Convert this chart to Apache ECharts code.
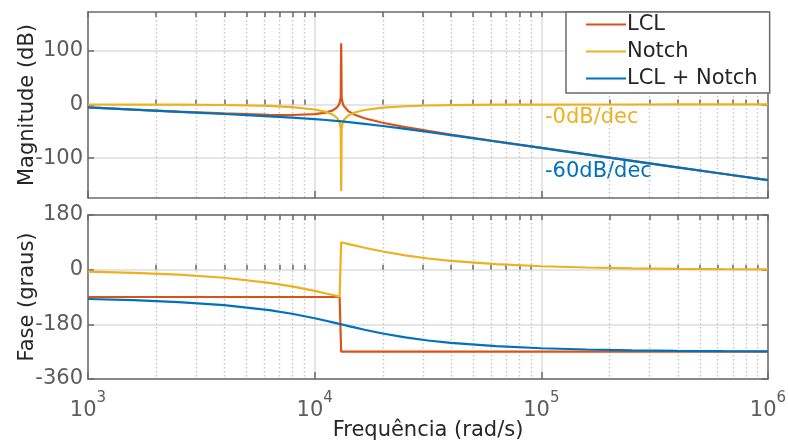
<!DOCTYPE html>
<html><head><meta charset="utf-8">
<script src="https://cdn.jsdelivr.net/npm/echarts@6/dist/echarts.min.js"></script>
<style>html,body{margin:0;padding:0;background:#fff}#c{width:788px;height:441px}</style>
</head><body><div id="c"></div>
<script>
// ---- data ----
const seriesNames = ['LCL', 'Notch', 'LCL + Notch'];
const freq = [1000, 1585, 2512, 3981, 6310, 7943, 10000, 11220, 12023, 12589, 12882, 13032, 13092, 13152, 13305, 13490, 14125, 15136, 16596, 19953, 25119, 31623, 39811, 63096, 100000, 158489, 251189, 398107, 630957, 1000000];
const magLCL = [-5.53, -9.45, -13.25, -16.74, -19.28, -19.59, -17.97, -15.06, -11.08, -5.12, 2.20, 12.86, 114, 12.72, 1.63, -3.99, -12.88, -19.72, -25.65, -34.01, -42.15, -49.27, -55.91, -68.52, -80.75, -92.84, -104.88, -116.89, -128.90, -140.90];
const magNotch = [-0.06, -0.15, -0.37, -0.98, -2.76, -4.88, -9.33, -13.88, -18.94, -25.66, -33.36, -44.22, -161, -44.24, -33.35, -27.98, -19.92, -14.40, -10.34, -6.01, -3.33, -1.94, -1.16, -0.44, -0.17, -0.07, -0.03, -0.01, 0, 0];
const magTotal = [-5.59, -9.60, -13.63, -17.72, -22.04, -24.47, -27.30, -28.94, -30.02, -30.77, -31.16, -31.36, -31.44, -31.52, -31.72, -31.97, -32.81, -34.12, -35.98, -40.02, -45.48, -51.20, -57.07, -68.95, -80.92, -92.91, -104.91, -116.91, -128.91, -140.91];
const freqPh = [1000, 1585, 2512, 3981, 6310, 7943, 10000, 11220, 12023, 12589, 12882, 13032, 13092, 13092, 13152, 13305, 13490, 14125, 15136, 16596, 19953, 25119, 31623, 39811, 63096, 100000, 158489, 251189, 398107, 630957, 1000000];
const phLCL = [-90, -90, -90, -90, -90, -90, -90, -90, -90, -90, -90, -90, -90, -270, -270, -270, -270, -270, -270, -270, -270, -270, -270, -270, -270, -270, -270, -270, -270, -270, -270];
const phNotch = [-6.57, -10.45, -16.64, -26.69, -43.28, -55.22, -70.02, -78.33, -83.51, -87.01, -88.77, -89.65, -90, 90, 89.65, 88.77, 87.71, 84.21, 79.02, 72.29, 59.95, 47.03, 36.85, 28.95, 18.02, 11.30, 7.11, 4.48, 2.83, 1.78, 1.13];
const phTotal = [-96.57, -100.45, -106.64, -116.69, -133.28, -145.22, -160.02, -168.33, -173.51, -177.01, -178.77, -179.65, -180, -180, -180.35, -181.23, -182.29, -185.79, -190.98, -197.71, -210.05, -222.97, -233.15, -241.05, -251.98, -258.70, -262.89, -265.52, -267.17, -268.22, -268.87];
const xTicks = [1000, 10000, 100000, 1000000];
const magTicks = [-100, 0, 100];
const phTicks = [-360, -180, 0, 180];
const annotations = [{text: '-0dB/dec', color: '#EDB120'}, {text: '-60dB/dec', color: '#0072BD'}];

// ---- styling ----
const FONT = 'DejaVu Sans';
const AX = '#6a6a6a';
const LBL = '#5c5c5c';
const TITLE = '#262626';
const COLORS = ['#D95319', '#EDB120', '#0072BD'];
const FS = 21;

const majorX = xTicks.map(v => Math.log10(v));
const minorX = [];
for (let k = 0; k < xTicks.length - 1; k++) for (let m = 2; m <= 9; m++) minorX.push(Math.log10(m * xTicks[k]));
const allX = majorX.concat(minorX).sort((a, b) => a - b);

const grids = [
  {left: 88, top: 12, width: 680, height: 186, containLabel: false, outerBoundsMode: 'none'},
  {left: 88, top: 215, width: 680, height: 164, containLabel: false, outerBoundsMode: 'none'}
];

function xAxesFor(g, withLabels) {
  const base = {type: 'value', gridIndex: g, min: 3, max: 6};
  return [
    Object.assign({}, base, {
      position: 'bottom',
      axisLine: {show: true, onZero: false, lineStyle: {color: AX, width: 1.5}},
      axisTick: {show: true, inside: true, length: 7, customValues: majorX, lineStyle: {color: AX, width: 1.5}},
      axisLabel: withLabels ? {
        show: true, customValues: majorX, margin: 12,
        formatter: v => '{b|10}{s|' + Math.round(v) + '}',
        rich: {
          b: {fontFamily: FONT, fontSize: FS, color: LBL, verticalAlign: 'bottom', lineHeight: 30},
          s: {fontFamily: FONT, fontSize: 15, color: LBL, verticalAlign: 'top', lineHeight: 30}
        }
      } : {show: false},
      splitLine: {show: true, lineStyle: {color: '#dcdcdc', width: 1.5}},
      name: withLabels ? 'Frequência (rad/s)' : '',
      nameLocation: 'middle', nameGap: 41, nameMoveOverlap: false,
      nameTextStyle: {fontFamily: FONT, fontSize: FS, color: TITLE}
    }),
    Object.assign({}, base, {
      position: 'bottom',
      axisLine: {show: false},
      axisTick: {show: true, inside: true, length: 5, customValues: minorX, lineStyle: {color: AX, width: 1.5}},
      axisLabel: {show: false},
      splitLine: {show: true, lineStyle: {color: '#c4c4c4', width: 1.4, type: [1.5, 2.5]}}
    }),
    Object.assign({}, base, {
      position: 'top',
      axisLine: {show: true, onZero: false, lineStyle: {color: AX, width: 1.5}},
      axisTick: {show: true, inside: true, length: 5, customValues: allX, lineStyle: {color: AX, width: 1.5}},
      axisLabel: {show: false},
      splitLine: {show: false}
    })
  ];
}

function yAxesFor(g, min, max, ticks, name) {
  const base = {type: 'value', gridIndex: g, min: min, max: max};
  return [
    Object.assign({}, base, {
      position: 'left',
      axisLine: {show: true, onZero: false, lineStyle: {color: AX, width: 1.5}},
      axisTick: {show: true, inside: true, length: 6, customValues: ticks, lineStyle: {color: AX, width: 1.5}},
      axisLabel: {show: true, customValues: ticks, margin: 5, fontFamily: FONT, fontSize: FS, color: LBL},
      splitLine: {show: true, lineStyle: {color: '#dcdcdc', width: 1.5}},
      name: name, nameLocation: 'middle', nameGap: 50, nameMoveOverlap: false,
      nameTextStyle: {fontFamily: FONT, fontSize: FS, color: TITLE}
    }),
    Object.assign({}, base, {
      position: 'right',
      axisLine: {show: true, onZero: false, lineStyle: {color: AX, width: 1.5}},
      axisTick: {show: true, inside: true, length: 6, customValues: ticks, lineStyle: {color: AX, width: 1.5}},
      axisLabel: {show: false},
      splitLine: {show: false}
    })
  ];
}

const xAxis = xAxesFor(0, false).concat(xAxesFor(1, true));
const yAxis = yAxesFor(0, -174, 172, magTicks, 'Magnitude (dB)').concat(yAxesFor(1, -360, 180, phTicks, 'Fase (graus)'));

function mk(name, color, xs, ys, xi, yi) {
  return {
    name: name, type: 'line', xAxisIndex: xi, yAxisIndex: yi,
    data: xs.map((f, i) => [Math.log10(f), ys[i]]),
    showSymbol: false, symbol: 'none', clip: true,
    lineStyle: {color: color, width: 2.2}, itemStyle: {color: color},
    emphasis: {disabled: true}, animation: false
  };
}

const series = [
  mk(seriesNames[0], COLORS[0], freq, magLCL, 0, 0),
  mk(seriesNames[1], COLORS[1], freq, magNotch, 0, 0),
  mk(seriesNames[2], COLORS[2], freq, magTotal, 0, 0),
  mk(seriesNames[0], COLORS[0], freqPh, phLCL, 3, 2),
  mk(seriesNames[1], COLORS[1], freqPh, phNotch, 3, 2),
  mk(seriesNames[2], COLORS[2], freqPh, phTotal, 3, 2)
];

const chart = echarts.init(document.getElementById('c'), null, {renderer: 'canvas'});
chart.setOption({
  animation: false,
  backgroundColor: '#ffffff',
  grid: grids,
  xAxis: xAxis,
  yAxis: yAxis,
  series: series,
  legend: {
    data: seriesNames.map(n => ({name: n, icon: 'rect'})),
    orient: 'vertical', left: 566, top: 12,
    padding: [2, 12, 4, 20], itemGap: 6, itemWidth: 40, itemHeight: 2,
    backgroundColor: '#ffffff', borderColor: '#6a6a6a', borderWidth: 1.5,
    selectedMode: false,
    textStyle: {fontFamily: FONT, fontSize: FS, color: TITLE, padding: [0, 0, 0, -4]}
  },
  graphic: [
    {type: 'text', left: 545, top: 107, style: {text: annotations[0].text, fill: annotations[0].color, font: FS + 'px "' + FONT + '"'}},
    {type: 'text', left: 545, top: 161, style: {text: annotations[1].text, fill: annotations[1].color, font: FS + 'px "' + FONT + '"'}}
  ]
});
</script>
</body></html>
